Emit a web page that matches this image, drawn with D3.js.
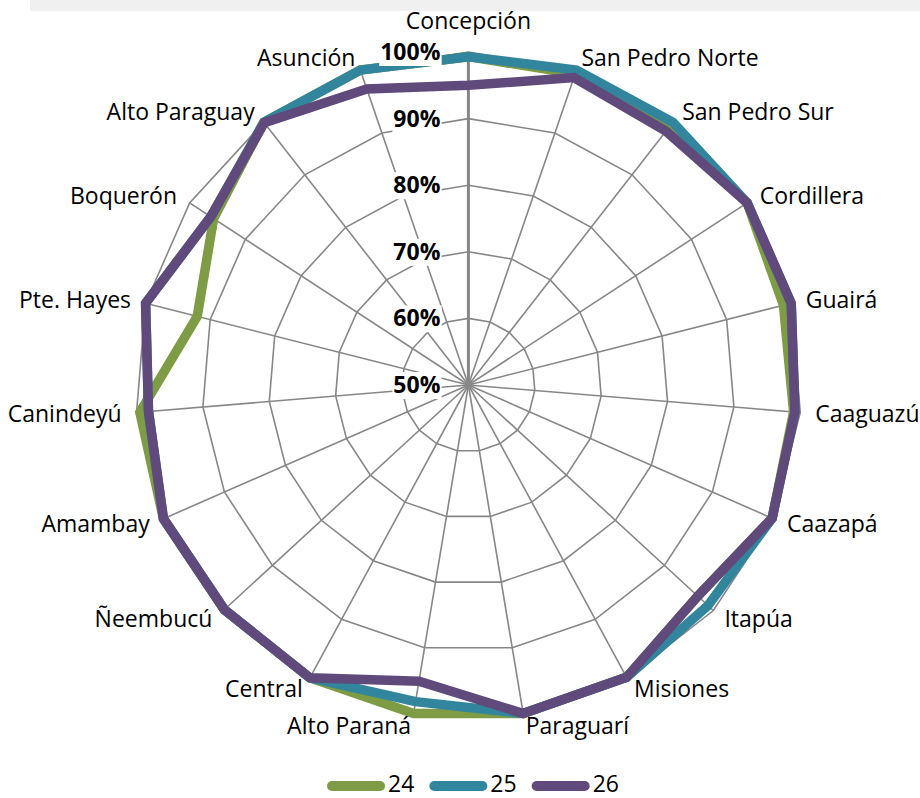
<!DOCTYPE html>
<html><head><meta charset="utf-8">
<script src="https://cdn.jsdelivr.net/npm/d3@7"></script>
<style>body{margin:0;background:#fff} svg{display:block}</style>
</head><body>
<svg id="c" width="920" height="798"></svg>
<script>
const categories = ["Concepción","San Pedro Norte","San Pedro Sur","Cordillera","Guairá","Caaguazú","Caazapá","Itapúa","Misiones","Paraguarí","Alto Paraná","Central","Ñeembucú","Amambay","Canindeyú","Pte. Hayes","Boquerón","Alto Paraguay","Asunción"];
const series24 = [99.3, 99.4, 98.8, 100, 98.8, 99.0, 99.8, 96.8, 99.9, 100, 100, 100, 99.8, 100, 99.5, 92.0, 95.7, 100, 100];
const series25 = [99.3, 100, 100, 100, 100, 99.2, 99.8, 98.9, 99.9, 100, 98.2, 100, 99.8, 100, 98.2, 100, 96.2, 100, 100];
const series26 = [95.0, 98.8, 98.3, 100, 100, 99.2, 99.8, 96.8, 99.9, 100, 95.1, 100, 99.8, 100, 98.2, 100, 96.2, 99.9, 97.0];
const seriesNames = ["24", "25", "26"];
const tickValues = [50, 60, 70, 80, 90, 100];
const tickLabels = ["50%", "60%", "70%", "80%", "90%", "100%"];
const colors = ["#7e9b45", "#31859c", "#604a7b"];

const cx = 468.4, cy = 385, R = 333;
const FONT = "'Open Sans', sans-serif";
const svg = d3.select("#c");
svg.append("rect").attr("x", 30).attr("y", 0).attr("width", 890).attr("height", 11).attr("fill", "#f0f0f0");

const n = categories.length;
const rScale = d3.scaleLinear().domain([50, 100]).range([0, R]);
const aScale = d3.scaleLinear().domain([0, n]).range([0, 2 * Math.PI]);
const g = svg.append("g").attr("transform", `translate(${cx},${cy})`);

// rings
const ringLine = d3.lineRadial().angle((d, i) => aScale(i)).radius(d => rScale(d)).curve(d3.curveLinearClosed);
tickValues.filter(v => v > 50).forEach(v => {
  g.append("path").attr("d", ringLine(categories.map(() => v)))
    .attr("fill", "none").attr("stroke", "#878787").attr("stroke-width", 1.6);
});
// spokes
g.selectAll("line.spoke").data(categories).join("line").attr("class", "spoke")
  .attr("x1", 0).attr("y1", 0)
  .attr("x2", (d, i) => rScale(100) * Math.sin(aScale(i)))
  .attr("y2", (d, i) => -rScale(100) * Math.cos(aScale(i)))
  .attr("stroke", "#878787").attr("stroke-width", 1.6);
// value axis
g.append("line").attr("x1", 0).attr("y1", 0).attr("x2", 0).attr("y2", -rScale(100))
  .attr("stroke", "#878787").attr("stroke-width", 3);

// series
const seriesLine = d3.lineRadial().angle((d, i) => aScale(i)).radius(d => rScale(d)).curve(d3.curveLinearClosed);
[series24, series25, series26].forEach((s, k) => {
  g.append("path").attr("d", seriesLine(s)).attr("fill", "none")
    .attr("stroke", colors[k]).attr("stroke-width", 9.5)
    .attr("stroke-linejoin", "miter").attr("stroke-miterlimit", 4);
});

// category labels
categories.forEach((c, i) => {
  const a = aScale(i), s = Math.sin(a), co = Math.cos(a);
  const vx = R * s, vy = -R * co;
  let x, yc, anchor;
  if (Math.abs(s) < 0.05) { anchor = "middle"; x = vx; yc = vy - (co > 0 ? 31 : -31); }
  else { anchor = s > 0 ? "start" : "end"; x = vx + 15 * s; yc = vy - 13 * co; }
  g.append("text").attr("x", x).attr("y", yc + 8).attr("text-anchor", anchor)
    .attr("font-family", FONT).attr("font-size", 23).attr("fill", "#000").text(c);
});

// tick labels
tickValues.forEach((v, k) => {
  const y = -rScale(v);
  const bg = g.append("rect").attr("fill", "#fff");
  const t = g.append("text").attr("x", -28).attr("y", y + 8).attr("text-anchor", "end")
    .attr("font-family", FONT).attr("font-size", 23).attr("font-weight", "bold").attr("fill", "#000")
    .text(tickLabels[k]);
  const bb = t.node().getBBox();
  bg.attr("x", bb.x - 1).attr("y", y - 13).attr("width", bb.width + 2).attr("height", 27);
});

// legend
const leg = svg.append("g");
const lineW = 58, gapT = 3, gapItem = 15, ly = 786;
let widths = seriesNames.map(nm => {
  const t = leg.append("text").attr("font-family", FONT).attr("font-size", 23).text(nm);
  const w = t.node().getComputedTextLength(); t.remove(); return w;
});
const total = d3.sum(widths) + seriesNames.length * (lineW + gapT) + (seriesNames.length - 1) * gapItem;
let x0 = 473 - total / 2;
seriesNames.forEach((nm, k) => {
  leg.append("line").attr("x1", x0 + 5).attr("x2", x0 + lineW - 5).attr("y1", ly).attr("y2", ly)
    .attr("stroke", colors[k]).attr("stroke-width", 10).attr("stroke-linecap", "round");
  leg.append("text").attr("x", x0 + lineW + gapT).attr("y", 791.5)
    .attr("font-family", FONT).attr("font-size", 23).attr("fill", "#000").text(nm);
  x0 += lineW + gapT + widths[k] + gapItem;
});
</script>
</body></html>
